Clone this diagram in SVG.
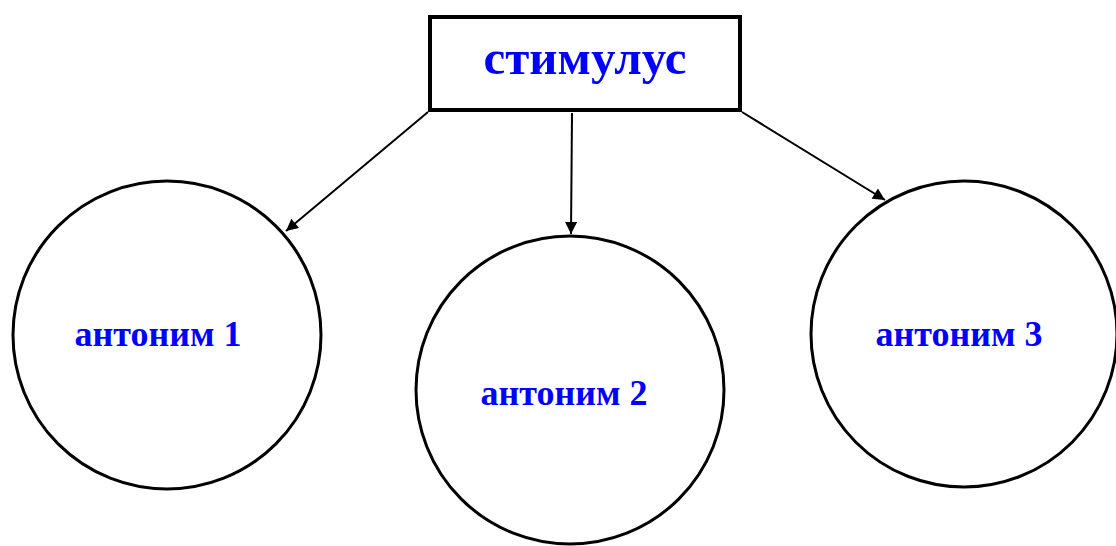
<svg xmlns="http://www.w3.org/2000/svg" width="1116" height="546" viewBox="0 0 1116 546">
<style>
.node{fill:#fff;stroke:#000;stroke-width:3}
.lbl{font-family:"Liberation Serif","Times New Roman",serif;font-weight:bold;fill:#0000ff;text-anchor:middle}
.edge{stroke:#000;stroke-width:2;fill:none;marker-end:url(#ah)}
</style>
<defs>
<marker id="ah" viewBox="0 0 10 10" refX="10" refY="5" markerWidth="15" markerHeight="12" markerUnits="userSpaceOnUse" orient="auto">
<path d="M0,0 L10,5 L0,10 z" fill="#000"/>
</marker>
</defs>
<rect width="1116" height="546" fill="#fff"/>
<g id="stimulus">
<rect x="430" y="17" width="310" height="93" fill="#fff" stroke="#000" stroke-width="4"/>
<text class="lbl" x="585" y="74" font-size="49">стимулус</text>
</g>
<g id="antonym1">
<circle class="node" cx="167" cy="335" r="154"/>
<text class="lbl" x="158" y="346" font-size="36">антоним 1</text>
</g>
<g id="antonym2">
<circle class="node" cx="570" cy="390" r="154"/>
<text class="lbl" x="564" y="405" font-size="36">антоним 2</text>
</g>
<g id="antonym3">
<circle class="node" cx="964" cy="334" r="153"/>
<text class="lbl" x="959" y="346" font-size="36">антоним 3</text>
</g>
<g id="connectors">
<line class="edge" x1="428" y1="112" x2="286" y2="231"/>
<line class="edge" x1="572" y1="113" x2="571" y2="234"/>
<line class="edge" x1="742" y1="112" x2="885" y2="200"/>
</g>
</svg>
